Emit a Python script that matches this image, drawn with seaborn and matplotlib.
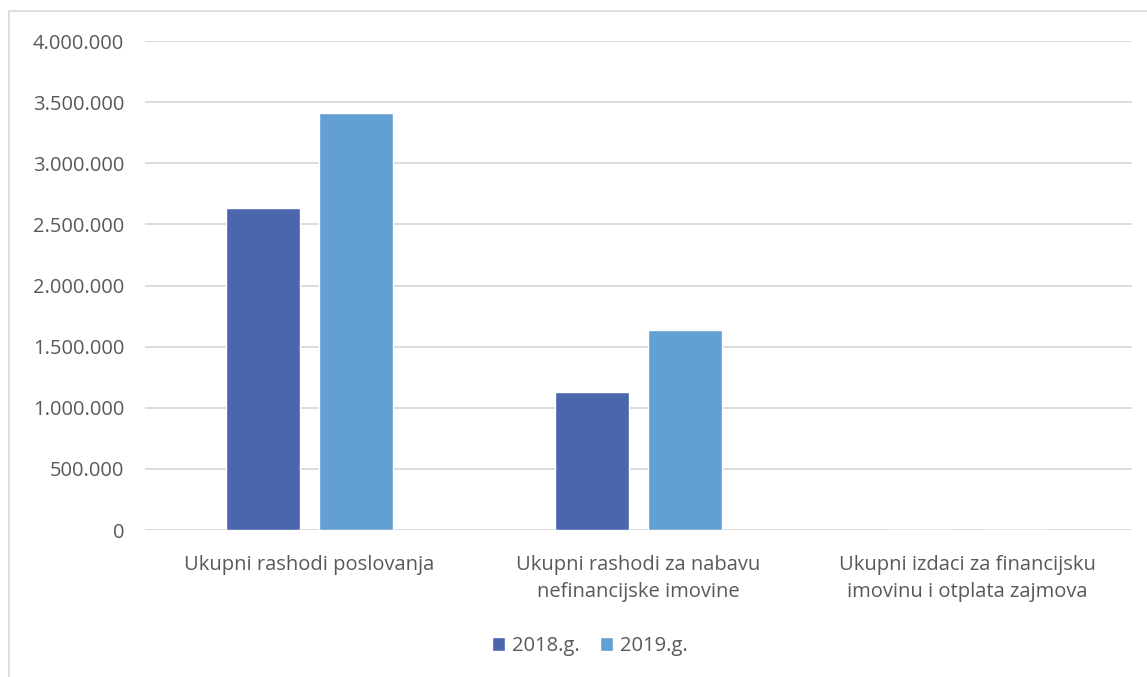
import matplotlib
matplotlib.use("Agg")
import matplotlib.pyplot as plt
import seaborn as sns
import pandas as pd
from matplotlib.ticker import FuncFormatter
from matplotlib.patches import Rectangle

categories = ["Ukupni rashodi poslovanja",
              "Ukupni rashodi za nabavu\nnefinancijske imovine",
              "Ukupni izdaci za financijsku\nimovinu i otplata zajmova"]
series = ["2018.g.", "2019.g."]
values_2018 = [2635000, 1130000, 0]
values_2019 = [3410000, 1635000, 0]
colors = ["#4A66AC", "#629FD3"]

df = pd.DataFrame({
    "cat": categories * 2,
    "year": [series[0]] * 3 + [series[1]] * 3,
    "val": values_2018 + values_2019,
})

sns.set_theme(style="white")
plt.rcParams["font.family"] = ["Open Sans", "DejaVu Sans"]

fig = plt.figure(figsize=(11.47, 6.77), dpi=100)
ax = fig.add_axes([145/1147, 1-530/677, (1132-145)/1147, (530-41)/677])

sns.barplot(data=df, x="cat", y="val", hue="year", palette=colors,
            width=0.565, gap=0.2, ax=ax, legend=True, saturation=1)

ax.set_ylim(0, 4000000)
ax.set_yticks(range(0, 4000001, 500000))
ax.yaxis.set_major_formatter(FuncFormatter(lambda v, p: f"{int(v):,}".replace(",", ".")))
ax.grid(axis="y", color="#D9D9D9", linewidth=1.3)
ax.set_axisbelow(True)
for s in ax.spines.values():
    s.set_visible(False)
ax.set_xlabel("")
ax.set_ylabel("")
ax.tick_params(axis="y", labelsize=14.5, labelcolor="#595959", length=0, pad=15)
ax.tick_params(axis="x", labelsize=14.5, labelcolor="#595959", length=0, pad=18)
for lbl in ax.get_xticklabels():
    lbl.set_linespacing(1.45)

leg = fig.legend(*ax.get_legend_handles_labels(), loc="center",
                 bbox_to_anchor=(590/1147, 1-646/677), ncol=2, frameon=False,
                 fontsize=14.5, handlelength=0.65, handleheight=0.65, handletextpad=0.35,
                 columnspacing=1.0, labelcolor="#595959")
ax.get_legend().remove()

fig.patches.append(Rectangle((9/1147, -0.01), 1.2, 1-11/677+0.01, transform=fig.transFigure,
                             fill=False, edgecolor="#D9D9D9", linewidth=1.2))

fig.savefig("out.png", dpi=100)
